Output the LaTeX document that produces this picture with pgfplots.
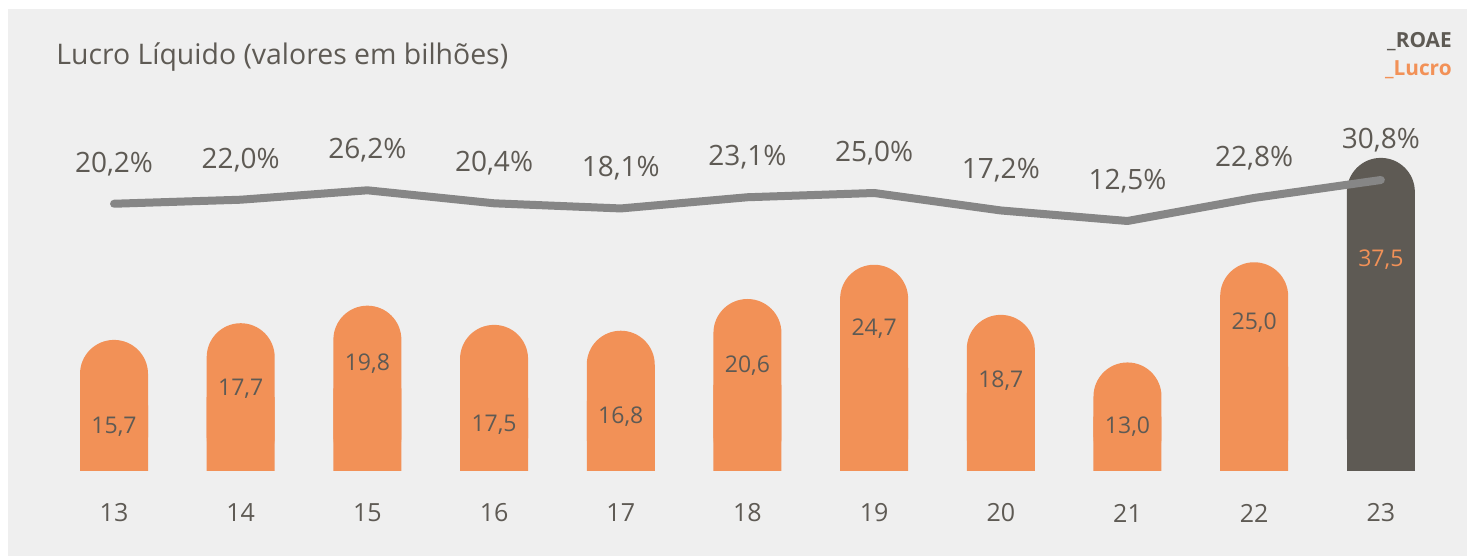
\documentclass[border=0pt]{standalone}
\usepackage{pgfplots}
\pgfplotsset{compat=1.18}
\usepackage{pgfplotstable}
\usepackage{fontspec}
\setmainfont{Open Sans}

\definecolor{fundo}{HTML}{EFEFEF}
\definecolor{laranja}{HTML}{F29157}
\definecolor{escuro}{HTML}{5E5A54}
\definecolor{texto}{HTML}{5E5A54}
\definecolor{linha}{HTML}{868686}

% lucro liquido (R$ bi), ly = altura do rotulo dentro da barra
\pgfplotstableread{
x v ly lab
0 15.7 5.27 15,7
1 17.7 9.82 17,7
2 19.8 12.8 19,8
3 17.5 5.5 17,5
4 16.8 6.47 16,8
5 20.6 12.6 20,6
6 24.7 17.0 24,7
7 18.7 10.8 18,7
8 13.0 5.27 13,0
9 25.0 17.8 25,0
10 37.5 25.3 37,5
}\lucro

% ROAE (%)
\pgfplotstableread{
x r lab
0 20.2 20,2
1 22.0 22,0
2 26.2 26,2
3 20.4 20,4
4 18.1 18,1
5 23.1 23,1
6 25.0 25,0
7 17.2 17,2
8 12.5 12,5
9 22.8 22,8
10 30.8 30,8
}\roae

\pgfplotsset{
  base/.style={scale only axis, width=733.5pt, height=278pt,
    at={(0,0)}, anchor=south west,
    xmin=-0.9, xmax=10.68, clip=false,
    axis line style={draw=none}, tick style={draw=none}, ytick=\empty},
  barra/.style={ybar, bar width=34pt, bar shift=0pt, draw=none},
}

\begin{document}
\begin{tikzpicture}
% fundo cinza (margem branca a esquerda e no topo)
\path (0,0) rectangle (733.5pt,278pt);
\fill[fundo] (4pt,0) rectangle (733.5pt,273.5pt);

\begin{axis}[base,
    ymin=-10.18, ymax=56.41,
    xtick={0,...,10}, xticklabels={13,14,15,16,17,18,19,20,21,22,23},
    x tick label style={anchor=center, yshift=21.5pt, text=texto,
      font=\fontsize{12.5}{14}\selectfont},
]
\node[anchor=west, inner sep=0pt, text=texto, font=\fontsize{14.2}{16}\selectfont]
  at (rel axis cs:0.0382,0.8975) {Lucro Líquido (valores em bilhões)};
\node[anchor=east, inner sep=0pt, text=escuro, font=\bfseries\fontsize{10.4}{12}\selectfont]
  at (rel axis cs:0.9898,0.9245) {\_ROAE};
\node[anchor=east, inner sep=0pt, text=laranja, font=\bfseries\fontsize{10.4}{12}\selectfont]
  at (rel axis cs:0.9898,0.8741) {\_Lucro};

% barras com topo arredondado; a segunda cobre os cantos de baixo
\addplot[barra, fill=laranja, rounded corners=17pt, restrict x to domain=-1:9.5]
  table[x=x, y=v] {\lucro};
\addplot[barra, fill=laranja, restrict x to domain=-1:9.5]
  table[x=x, y expr=\thisrow{v}/2] {\lucro};
\addplot[barra, fill=escuro, rounded corners=17pt, restrict x to domain=9.5:11]
  table[x=x, y=v] {\lucro};
\addplot[barra, fill=escuro, restrict x to domain=9.5:11]
  table[x=x, y expr=\thisrow{v}/2] {\lucro};

% rotulos das barras
\addplot[draw=none, mark=none, restrict x to domain=-1:9.5,
  point meta=explicit symbolic, nodes near coords,
  nodes near coords style={anchor=center, text=texto, font=\fontsize{11.5}{13}\selectfont}]
  table[x=x, y=ly, meta=lab] {\lucro};
\addplot[draw=none, mark=none, restrict x to domain=9.5:11,
  point meta=explicit symbolic, nodes near coords,
  nodes near coords style={anchor=center, text=laranja, font=\fontsize{11.5}{13}\selectfont}]
  table[x=x, y=ly, meta=lab] {\lucro};
\end{axis}

\begin{axis}[base, hide axis, ymin=-137.05, ymax=111.16]
\addplot[linha, line width=4pt, line cap=round, line join=round, mark=none,
  point meta=explicit symbolic, nodes near coords={\pgfplotspointmeta\%},
  nodes near coords style={anchor=center, yshift=20pt, text=texto,
    font=\fontsize{14}{16}\selectfont}]
  table[x=x, y=r, meta=lab] {\roae};
\end{axis}
\end{tikzpicture}
\end{document}
